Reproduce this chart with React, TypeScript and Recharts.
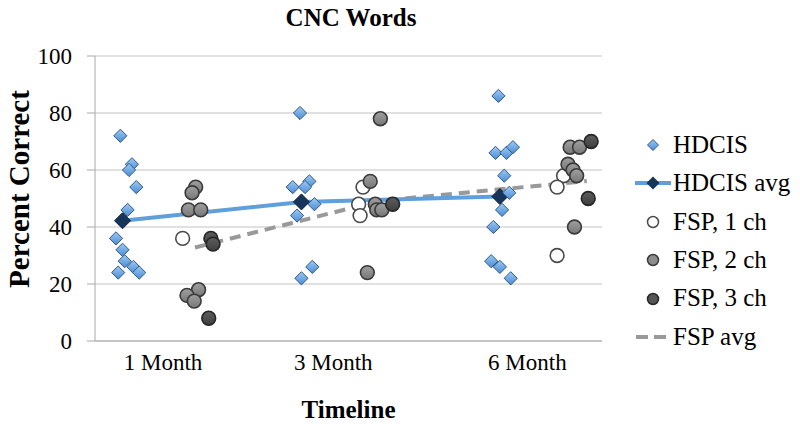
import React from 'react';
import { ScatterChart, Scatter, XAxis, YAxis, CartesianGrid, Label } from 'recharts';

// month groups on a numeric axis (points are jittered around each group)
const monthLabels = ['1 Month', '3 Month', '6 Month'];
const monthTicks = [0.94, 3.29, 5.97];
const percentTicks = [0, 20, 40, 60, 80, 100];

const hdcis = [
  { x: 0.35, y: 72 }, { x: 0.51, y: 62 }, { x: 0.47, y: 60 }, { x: 0.57, y: 54 },
  { x: 0.45, y: 46 }, { x: 0.29, y: 36 }, { x: 0.38, y: 32 }, { x: 0.41, y: 28 },
  { x: 0.53, y: 26 }, { x: 0.32, y: 24 }, { x: 0.61, y: 24 },
  { x: 2.83, y: 80 }, { x: 2.73, y: 54 }, { x: 2.96, y: 56 }, { x: 2.9, y: 54 },
  { x: 3.03, y: 48 }, { x: 2.79, y: 44 }, { x: 3.0, y: 26 }, { x: 2.85, y: 22 },
  { x: 5.57, y: 86 }, { x: 5.53, y: 66 }, { x: 5.68, y: 66 }, { x: 5.77, y: 68 },
  { x: 5.65, y: 58 }, { x: 5.72, y: 52 }, { x: 5.62, y: 46 }, { x: 5.5, y: 40 },
  { x: 5.47, y: 28 }, { x: 5.59, y: 26 }, { x: 5.74, y: 22 },
];

const hdcisAvg = [{ x: 0.38, y: 42.2 }, { x: 2.85, y: 48.8 }, { x: 5.59, y: 50.7 }];

const fsp1 = [
  { x: 1.21, y: 36 },
  { x: 3.7, y: 54 }, { x: 3.64, y: 48 }, { x: 3.66, y: 44 },
  { x: 6.47, y: 58 }, { x: 6.38, y: 54 }, { x: 6.38, y: 30 },
];

const fsp2 = [
  { x: 1.39, y: 54 }, { x: 1.34, y: 52 }, { x: 1.29, y: 46 }, { x: 1.46, y: 46 },
  { x: 1.43, y: 18 }, { x: 1.27, y: 16 }, { x: 1.37, y: 14 },
  { x: 3.94, y: 78 }, { x: 3.8, y: 56 }, { x: 3.87, y: 48 }, { x: 3.89, y: 46 },
  { x: 3.96, y: 46 }, { x: 3.76, y: 24 },
  { x: 6.56, y: 68 }, { x: 6.69, y: 68 }, { x: 6.53, y: 62 }, { x: 6.6, y: 60 },
  { x: 6.65, y: 58 }, { x: 6.62, y: 40 },
];

const fsp3 = [
  { x: 1.6, y: 36 }, { x: 1.63, y: 34 }, { x: 1.57, y: 8 },
  { x: 4.11, y: 48 },
  { x: 6.85, y: 70 }, { x: 6.81, y: 50 },
];

const fspAvg = [{ x: 1.38, y: 32.8 }, { x: 3.93, y: 49.2 }, { x: 6.79, y: 56.1 }];

const legendItems = ['HDCIS', 'HDCIS avg', 'FSP, 1 ch', 'FSP, 2 ch', 'FSP, 3 ch', 'FSP avg'];

const FONT = '"Liberation Serif", serif';

const diamondPoints = (cx: number, cy: number, r: number) =>
  `${cx},${cy - r} ${cx + r},${cy} ${cx},${cy + r} ${cx - r},${cy}`;

const HdcisShape = (props: any) => (
  <polygon points={diamondPoints(props.cx, props.cy, 6.6)} fill="url(#hdcisFill)" stroke="#2f5886" strokeWidth={1} />
);

const AvgDiamond = (props: any) => (
  <polygon points={diamondPoints(props.cx, props.cy, 8)} fill="#17355a" stroke="#0e2238" strokeWidth={1} />
);

const makeCircle = (fill: string, stroke: string) => (props: any) => (
  <circle cx={props.cx} cy={props.cy} r={6.9} fill={fill} stroke={stroke} strokeWidth={1.6} />
);

const Fsp1Shape = makeCircle('#ffffff', '#4a4a4a');
const Fsp2Shape = makeCircle('url(#fsp2Fill)', '#3a3a3a');
const Fsp3Shape = makeCircle('url(#fsp3Fill)', '#262626');

function LegendIcon({ index }: { index: number }) {
  return (
    <svg width={40} height={20} style={{ display: 'block' }}>
      <defs>
        <linearGradient id={`legHd${index}`} x1="0" y1="0" x2="0" y2="1">
          <stop offset="0%" stopColor="#9ccaf5" />
          <stop offset="100%" stopColor="#4d8bd2" />
        </linearGradient>
      </defs>
      {index === 0 && <polygon points={diamondPoints(20, 10, 5.5)} fill={`url(#legHd${index})`} stroke="#2f5886" />}
      {index === 1 && (
        <>
          <line x1={2} y1={10} x2={38} y2={10} stroke="#5f9fdc" strokeWidth={4} />
          <polygon points={diamondPoints(20, 10, 6.5)} fill="#17355a" />
        </>
      )}
      {index === 2 && <circle cx={20} cy={10} r={5.5} fill="#fff" stroke="#4a4a4a" strokeWidth={1.5} />}
      {index === 3 && <circle cx={20} cy={10} r={5.5} fill="#8c8c8c" stroke="#3a3a3a" strokeWidth={1.5} />}
      {index === 4 && <circle cx={20} cy={10} r={5.5} fill="#555" stroke="#262626" strokeWidth={1.5} />}
      {index === 5 && <line x1={3} y1={10} x2={37} y2={10} stroke="#999" strokeWidth={4} strokeDasharray="12 6" />}
    </svg>
  );
}

export default function App() {
  return (
    <div style={{ position: 'relative', width: 800, height: 424, background: '#fff', fontFamily: FONT }}>
      <style>{'body{margin:0}'}</style>
      <div
        style={{
          position: 'absolute', left: 0, top: 4.6, width: 702, textAlign: 'center',
          fontSize: 25, lineHeight: '25px', fontWeight: 'bold',
        }}
      >
        CNC Words
      </div>
      <ScatterChart width={800} height={424} margin={{ top: 56, right: 198, bottom: 53, left: 5 }}>
        <defs>
          <linearGradient id="hdcisFill" x1="0" y1="0" x2="0" y2="1">
            <stop offset="0%" stopColor="#9ccaf5" />
            <stop offset="100%" stopColor="#4d8bd2" />
          </linearGradient>
          <linearGradient id="fsp2Fill" x1="0" y1="0" x2="0" y2="1">
            <stop offset="0%" stopColor="#a0a0a0" />
            <stop offset="100%" stopColor="#777777" />
          </linearGradient>
          <linearGradient id="fsp3Fill" x1="0" y1="0" x2="0" y2="1">
            <stop offset="0%" stopColor="#5e5e5e" />
            <stop offset="100%" stopColor="#3e3e3e" />
          </linearGradient>
        </defs>
        <CartesianGrid vertical={false} stroke="#c4c4c4" strokeWidth={1.2} />
        <XAxis
          type="number"
          dataKey="x"
          domain={[0, 7]}
          ticks={monthTicks}
          tickFormatter={(v: number) => monthLabels[monthTicks.indexOf(v)] ?? ''}
          tickLine={false}
          tickSize={6}
          tickMargin={7}
          height={30}
          stroke="#a8a8a8"
          tick={{ fill: '#000', fontSize: 23, fontFamily: FONT }}
          allowDataOverflow
        >
          <Label value="Timeline" position="bottom" offset={29} style={{ fontSize: 25, fontWeight: 'bold', fill: '#000', fontFamily: FONT }} />
        </XAxis>
        <YAxis
          type="number"
          dataKey="y"
          domain={[0, 100]}
          ticks={percentTicks}
          width={90}
          tickSize={8}
          tickMargin={15}
          stroke="#a8a8a8"
          tick={{ fill: '#000', fontSize: 23, fontFamily: FONT }}
        >
          <Label
            content={() => (
              <text
                x={19}
                y={189}
                transform="rotate(-90 19 189)"
                textAnchor="middle"
                dominantBaseline="central"
                style={{ fontSize: 29, fontWeight: 'bold', fill: '#000', fontFamily: FONT }}
              >
                Percent Correct
              </text>
            )}
          />
        </YAxis>
        <Scatter
          name="FSP avg"
          data={fspAvg}
          line={{ stroke: '#999999', strokeWidth: 4, strokeDasharray: '11 7' }}
          shape={() => <g />}
          isAnimationActive={false}
        />
        <Scatter
          name="HDCIS avg"
          data={hdcisAvg}
          line={{ stroke: '#5f9fdc', strokeWidth: 4 }}
          shape={AvgDiamond}
          isAnimationActive={false}
        />
        <Scatter name="HDCIS" data={hdcis} shape={HdcisShape} isAnimationActive={false} />
        <Scatter name="FSP, 1 ch" data={fsp1} shape={Fsp1Shape} isAnimationActive={false} />
        <Scatter name="FSP, 2 ch" data={fsp2} shape={Fsp2Shape} isAnimationActive={false} />
        <Scatter name="FSP, 3 ch" data={fsp3} shape={Fsp3Shape} isAnimationActive={false} />
      </ScatterChart>
      <div style={{ position: 'absolute', left: 633, top: 125.8 }}>
        {legendItems.map((name, i) => (
          <div key={name} style={{ display: 'flex', alignItems: 'center', height: 38.4 }}>
            <LegendIcon index={i} />
            <span style={{ fontSize: 25, lineHeight: '38.4px', whiteSpace: 'nowrap' }}>{name}</span>
          </div>
        ))}
      </div>
    </div>
  );
}
